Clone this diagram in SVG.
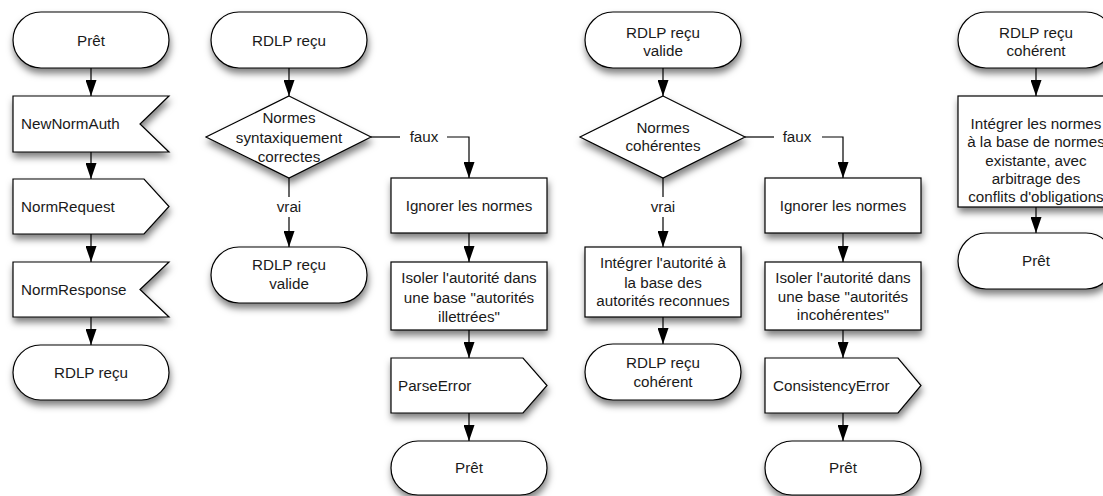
<svg xmlns="http://www.w3.org/2000/svg" width="1103" height="496" viewBox="0 0 1103 496">
<defs>
<filter id="sh" x="-20%" y="-20%" width="140%" height="160%">
<feDropShadow dx="1" dy="5" stdDeviation="3.5" flood-color="#000" flood-opacity="0.5"/>
</filter>
<marker id="ah" viewBox="0 0 16 11" markerWidth="16" markerHeight="11" refX="16" refY="5.5" orient="auto" markerUnits="userSpaceOnUse">
<path d="M0,0 L16,5.5 L0,11 z" fill="#000"/>
</marker>
</defs>
<style>
.s{fill:#fff;stroke:#000;stroke-width:1.2;filter:url(#sh)}
.t{font-family:"Liberation Sans",Arial,Helvetica,sans-serif;font-size:15.2px;fill:#1a1a1a;text-anchor:middle}
.l{text-anchor:start}
.c{fill:none;stroke:#000;stroke-width:1.2}
.a{marker-end:url(#ah)}
</style>
<rect width="1103" height="496" fill="#fff"/>

<g id="connectors">
<line class="c a" x1="91" y1="68" x2="91" y2="96"/>
<line class="c a" x1="91" y1="152" x2="91" y2="179"/>
<line class="c a" x1="91" y1="234" x2="91" y2="262"/>
<line class="c a" x1="91" y1="317" x2="91" y2="345"/>

<line class="c a" x1="289" y1="68" x2="289" y2="96"/>
<path class="c" d="M371,137 H400"/>
<path class="c a" d="M447,137 H469 V178"/>
<text class="t" x="424" y="142">faux</text>
<path class="c" d="M289,178 V197"/>
<path class="c a" d="M289,217 V247"/>
<text class="t" x="289" y="212">vrai</text>

<line class="c a" x1="469" y1="233" x2="469" y2="262"/>
<line class="c a" x1="469" y1="330" x2="469" y2="358"/>
<line class="c a" x1="469" y1="413" x2="469" y2="441"/>

<line class="c a" x1="663" y1="68" x2="663" y2="96"/>
<path class="c" d="M745,137 H774"/>
<path class="c a" d="M822,137 H843 V178"/>
<text class="t" x="797" y="142">faux</text>
<path class="c" d="M663,178 V197"/>
<path class="c a" d="M663,217 V247"/>
<text class="t" x="663" y="212">vrai</text>
<line class="c a" x1="663" y1="317" x2="663" y2="344"/>

<line class="c a" x1="843" y1="233" x2="843" y2="262"/>
<line class="c a" x1="843" y1="330" x2="843" y2="358"/>
<line class="c a" x1="843" y1="413" x2="843" y2="441"/>

<line class="c a" x1="1036" y1="68" x2="1036" y2="96"/>
<line class="c a" x1="1036" y1="207" x2="1036" y2="233"/>
</g>

<g id="n1-pret">
<rect class="s" x="13" y="12" width="156" height="56" rx="28"/>
<text class="t" x="91" y="46">Prêt</text>
</g>
<g id="n1-newnormauth">
<path class="s" d="M13,96 H169 L140,124 L169,152 H13 Z"/>
<text class="t l" x="21" y="129">NewNormAuth</text>
</g>
<g id="n1-normrequest">
<path class="s" d="M13,179 H144 L169,206.5 L144,234 H13 Z"/>
<text class="t l" x="21" y="212">NormRequest</text>
</g>
<g id="n1-normresponse">
<path class="s" d="M13,262 H169 L140,289.5 L169,317 H13 Z"/>
<text class="t l" x="21" y="295">NormResponse</text>
</g>
<g id="n1-rdlp">
<rect class="s" x="13" y="345" width="156" height="55" rx="27.5"/>
<text class="t" x="91" y="378">RDLP reçu</text>
</g>

<g id="n2-rdlp">
<rect class="s" x="211" y="12" width="156" height="56" rx="28"/>
<text class="t" x="289" y="46">RDLP reçu</text>
</g>
<g id="n2-decision">
<path class="s" d="M289,96 L371,137 L289,178 L206,137 Z"/>
<text class="t" x="289" y="123">Normes</text>
<text class="t" x="289" y="143">syntaxiquement</text>
<text class="t" x="289" y="162">correctes</text>
</g>
<g id="n2-valide">
<rect class="s" x="211" y="247" width="156" height="56" rx="28"/>
<text class="t" x="289" y="270">RDLP reçu</text>
<text class="t" x="289" y="289">valide</text>
</g>
<g id="n2-ignorer">
<rect class="s" x="391" y="178" width="156" height="55"/>
<text class="t" x="469" y="211">Ignorer les normes</text>
</g>
<g id="n2-isoler">
<rect class="s" x="391" y="262" width="156" height="68"/>
<text class="t" x="469" y="283">Isoler l'autorité dans</text>
<text class="t" x="469" y="303">une base "autorités</text>
<text class="t" x="469" y="322">illettrées"</text>
</g>
<g id="n2-parseerror">
<path class="s" d="M391,358 H523 L547,385.5 L523,413 H391 Z"/>
<text class="t l" x="398" y="391">ParseError</text>
</g>
<g id="n2-pret">
<rect class="s" x="391" y="441" width="156" height="54" rx="27"/>
<text class="t" x="469" y="473">Prêt</text>
</g>

<g id="n3-valide">
<rect class="s" x="585" y="12" width="156" height="56" rx="28"/>
<text class="t" x="663" y="38">RDLP reçu</text>
<text class="t" x="663" y="56">valide</text>
</g>
<g id="n3-decision">
<path class="s" d="M663,96 L745,137 L663,178 L580,137 Z"/>
<text class="t" x="663" y="133">Normes</text>
<text class="t" x="663" y="151">cohérentes</text>
</g>
<g id="n3-integrer">
<rect class="s" x="585" y="247" width="156" height="70"/>
<text class="t" x="663" y="268">Intégrer l'autorité à</text>
<text class="t" x="663" y="288">la base des</text>
<text class="t" x="663" y="306">autorités reconnues</text>
</g>
<g id="n3-coherent">
<rect class="s" x="585" y="344" width="156" height="56" rx="28"/>
<text class="t" x="663" y="368">RDLP reçu</text>
<text class="t" x="663" y="387">cohérent</text>
</g>
<g id="n4-ignorer">
<rect class="s" x="765" y="178" width="156" height="55"/>
<text class="t" x="843" y="211">Ignorer les normes</text>
</g>
<g id="n4-isoler">
<rect class="s" x="765" y="262" width="156" height="68"/>
<text class="t" x="843" y="283">Isoler l'autorité dans</text>
<text class="t" x="843" y="302">une base "autorités</text>
<text class="t" x="843" y="320">incohérentes"</text>
</g>
<g id="n4-consistencyerror">
<path class="s" d="M765,358 H898 L921,385.5 L898,413 H765 Z"/>
<text class="t l" x="773" y="391">ConsistencyError</text>
</g>
<g id="n4-pret">
<rect class="s" x="765" y="441" width="156" height="54" rx="27"/>
<text class="t" x="843" y="473">Prêt</text>
</g>

<g id="n5-coherent">
<rect class="s" x="958" y="12" width="156" height="56" rx="28"/>
<text class="t" x="1036" y="38">RDLP reçu</text>
<text class="t" x="1036" y="56">cohérent</text>
</g>
<g id="n5-integrer">
<rect class="s" x="958" y="96" width="156" height="111"/>
<text class="t" x="1036" y="129">Intégrer les normes</text>
<text class="t" x="1036" y="147">à la base de normes</text>
<text class="t" x="1036" y="166">existante, avec</text>
<text class="t" x="1036" y="184">arbitrage des</text>
<text class="t" x="1036" y="202">conflits d'obligations</text>
</g>
<g id="n5-pret">
<rect class="s" x="958" y="233" width="156" height="56" rx="28"/>
<text class="t" x="1036" y="266">Prêt</text>
</g>
</svg>
